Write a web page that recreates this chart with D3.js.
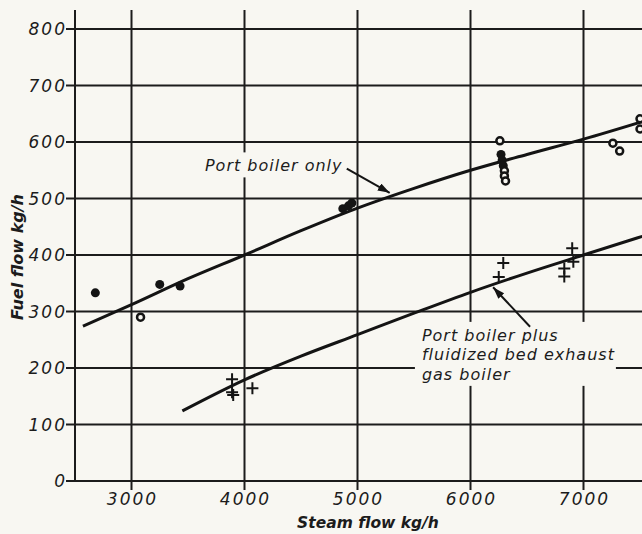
<!DOCTYPE html>
<meta charset="utf-8">
<title>Fuel flow vs steam flow</title>
<style>
body {
	margin: 0;
	background: #f8f7f2;
}
svg {
	display: block;
	font-family: "DejaVu Sans", sans-serif;
	font-style: italic;
}
.grid line {
	stroke: #1c1c1c;
	stroke-width: 2px;
}
.tick-label {
	font-size: 17px;
	letter-spacing: 2px;
	fill: #1c1c1c;
}
.axis-title {
	font-size: 15.5px;
	font-weight: bold;
	fill: #1c1c1c;
}
.note {
	font-size: 16px;
	fill: #1c1c1c;
	letter-spacing: 1px;
}
.curve {
	fill: none;
	stroke: #141414;
	stroke-width: 3px;
}
</style>
<svg width="642" height="534"></svg>
<script src="https://d3js.org/d3.v7.min.js"></script>
<script>
// tick values
var xTicks = [3000, 4000, 5000, 6000, 7000]
var yTicks = [0, 100, 200, 300, 400, 500, 600, 700, 800]

// port boiler only: measured points (f = filled, o = open)
var portX = [2680, 3080, 3250, 3430, 4870, 4920, 4950, 6260, 6270, 6280, 6290, 6300, 6300, 6310, 7260, 7320, 7500, 7500]
var portY = [333, 290, 348, 345, 482, 487, 492, 602, 578, 568, 558, 549, 540, 531, 598, 584, 641, 623]
var portKind = ['f', 'o', 'f', 'f', 'f', 'f', 'f', 'o', 'f', 'f', 'f', 'o', 'o', 'o', 'o', 'o', 'o', 'o']

// port boiler only: fitted curve
var portCurveX = [2570, 3000, 3500, 4000, 4500, 5000, 5500, 6000, 6500, 7000, 7520]
var portCurveY = [274, 312, 358, 400, 443, 483, 518, 550, 578, 605, 636]

// port boiler plus fluidized bed exhaust gas boiler: measured points
var fbX = [3890, 3890, 3900, 4070, 6290, 6250, 6900, 6910, 6830, 6830]
var fbY = [180, 157, 152, 164, 386, 361, 412, 388, 376, 362]

// port boiler plus fluidized bed exhaust gas boiler: fitted curve
var fbCurveX = [3450, 4000, 4500, 5000, 5500, 6000, 6500, 7000, 7520]
var fbCurveY = [124, 179, 221, 259, 297, 334, 368, 400, 433]

var svg = d3.select("svg")

var x = d3.scaleLinear().domain([2500, 8000]).range([75, 696.5])
var y = d3.scaleLinear().domain([0, 800]).range([481, 29])
var yTop = y.invert(10)

// grid
var grid = svg.append("g").attr("class", "grid")

grid.selectAll("line.h")
	.data(yTicks)
	.enter().append("line")
		.attr("class", "h")
		.attr("x1", 66)
		.attr("x2", 642)
		.attr("y1", function(d) { return y(d) })
		.attr("y2", function(d) { return y(d) })

grid.selectAll("line.v")
	.data(xTicks)
	.enter().append("line")
		.attr("class", "v")
		.attr("x1", function(d) { return x(d) })
		.attr("x2", function(d) { return x(d) })
		.attr("y1", y(yTop))
		.attr("y2", y(0) + 9)

grid.append("line")
	.attr("x1", x(2500))
	.attr("x2", x(2500))
	.attr("y1", y(yTop))
	.attr("y2", y(0))

// tick labels
svg.append("g").selectAll("text")
	.data(yTicks)
	.enter().append("text")
		.attr("class", "tick-label")
		.attr("x", 67)
		.attr("y", function(d) { return y(d) })
		.attr("dy", "0.36em")
		.attr("text-anchor", "end")
		.text(function(d) { return d })

svg.append("g").selectAll("text")
	.data(xTicks)
	.enter().append("text")
		.attr("class", "tick-label")
		.attr("x", function(d) { return x(d) + 1 })
		.attr("y", 505)
		.attr("text-anchor", "middle")
		.text(function(d) { return d })

// axis titles
svg.append("text")
	.attr("class", "axis-title")
	.attr("x", 368)
	.attr("y", 528)
	.attr("text-anchor", "middle")
	.text("Steam flow kg/h")

svg.append("text")
	.attr("class", "axis-title")
	.attr("transform", "translate(23,257) rotate(-90)")
	.attr("text-anchor", "middle")
	.style("font-size", "16px")
	.text("Fuel flow kg/h")

// label helper, cuts a pale box out of the grid behind the text
function note(lines, vx, vy, lineH) {
	var g = svg.append("g")
	var t = g.append("text").attr("class", "note")
	lines.forEach(function(s, i) {
		t.append("tspan")
			.attr("x", x(vx))
			.attr("y", y(vy) + i * lineH)
			.text(s)
	})
	var b = t.node().getBBox()
	g.insert("rect", "text")
		.attr("x", b.x - 7)
		.attr("y", b.y - 4)
		.attr("width", b.width + 8)
		.attr("height", b.height + 6)
		.attr("fill", "#f8f7f2")
}

note(["Port boiler only"], 3650, 548, 19)
note(["Port boiler plus", "fluidized bed exhaust", "gas boiler"], 5570, 248, 19.5)

// curves
var line = d3.line()
	.x(function(d) { return x(d[0]) })
	.y(function(d) { return y(d[1]) })
	.curve(d3.curveMonotoneX)

svg.append("path")
	.attr("class", "curve")
	.attr("d", line(d3.zip(portCurveX, portCurveY)))

svg.append("path")
	.attr("class", "curve")
	.attr("d", line(d3.zip(fbCurveX, fbCurveY)))

// arrows
svg.append("defs").append("marker")
	.attr("id", "head")
	.attr("viewBox", "0 0 12 8")
	.attr("refX", 12)
	.attr("refY", 4)
	.attr("markerWidth", 12)
	.attr("markerHeight", 8)
	.attr("markerUnits", "userSpaceOnUse")
	.attr("orient", "auto")
	.append("path")
		.attr("d", "M0,0L12,4L0,8Z")
		.attr("fill", "#141414")

var arrows = [
	[4905, 553, 5285, 510],
	[6527, 273, 6200, 343]
]
svg.append("g").selectAll("line")
	.data(arrows)
	.enter().append("line")
		.attr("x1", function(d) { return x(d[0]) })
		.attr("y1", function(d) { return y(d[1]) })
		.attr("x2", function(d) { return x(d[2]) })
		.attr("y2", function(d) { return y(d[3]) })
		.attr("stroke", "#141414")
		.attr("stroke-width", 2)
		.attr("marker-end", "url(#head)")

// points
svg.append("g").selectAll("circle")
	.data(d3.range(portX.length))
	.enter().append("circle")
		.attr("cx", function(i) { return x(portX[i]) })
		.attr("cy", function(i) { return y(portY[i]) })
		.attr("r", function(i) { return portKind[i] == 'f' ? 4.5 : 3.5 })
		.attr("fill", function(i) { return portKind[i] == 'f' ? "#141414" : "#f8f7f2" })
		.attr("stroke", "#141414")
		.attr("stroke-width", function(i) { return portKind[i] == 'f' ? 0 : 2.5 })

svg.append("g").selectAll("path")
	.data(d3.range(fbX.length))
	.enter().append("path")
		.attr("transform", function(i) { return "translate(" + x(fbX[i]) + "," + y(fbY[i]) + ")" })
		.attr("d", "M-6,0H6M0,-6V6")
		.attr("stroke", "#141414")
		.attr("stroke-width", 2)
		.attr("fill", "none")
</script>
